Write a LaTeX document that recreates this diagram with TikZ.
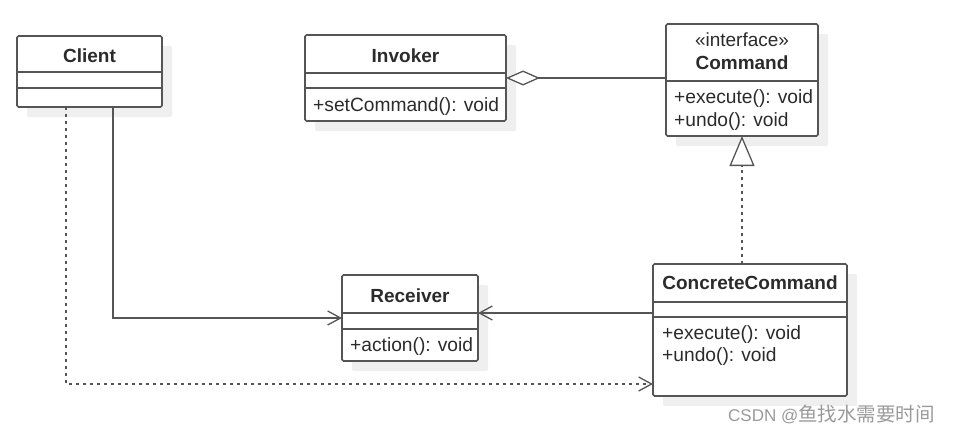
\documentclass[tikz,border=0pt]{standalone}
\usepackage{fontspec}
\setmainfont{Liberation Sans}
\newfontfamily\cjk{Noto Sans CJK SC}
\usetikzlibrary{arrows.meta}
\definecolor{linec}{HTML}{555555}
\definecolor{textc}{HTML}{2B2B2B}
\definecolor{shadowc}{HTML}{EFEFEF}
\definecolor{wmc}{HTML}{9A9A9A}
\begin{document}
\begin{tikzpicture}[x=1pt,y=-1pt,
  classbox/.style={draw=linec, line width=1.6pt, fill=white, rounded corners=1.5pt,
    inner sep=0pt, outer sep=0pt, anchor=north west,
    preaction={fill=shadowc, draw=none, transform canvas={shift={(10pt,-10pt)}}}},
  sepline/.style={draw=linec, line width=1.6pt},
  title/.style={font=\bfseries\fontsize{19}{22}\selectfont, text=textc, inner sep=0pt, anchor=base},
  member/.style={font=\fontsize{19.2}{22}\selectfont, text=textc, inner sep=0pt, anchor=base west},
  assoc/.style={draw=linec, line width=1.5pt, -{Straight Barb[length=13pt, width=14pt, line width=1.3pt]}},
  dep/.style={assoc, dash pattern=on 3pt off 4pt},
  realize/.style={draw=linec, line width=1.5pt, dash pattern=on 3pt off 4pt,
    -{Triangle[length=30pt, width=25pt, fill=white, line width=1.3pt]}},
  aggr/.style={draw=linec, line width=1.5pt, {Diamond[length=34pt, width=15pt, fill=white, line width=1.3pt]}-}
]
\useasboundingbox (0,0) rectangle (953,434);

% Client
\node[classbox, minimum width=145pt, minimum height=71pt] (client) at (17,36) {};
\draw[sepline] (client.west |- 0,72) -- (client.east |- 0,72);
\draw[sepline] (client.west |- 0,88) -- (client.east |- 0,88);
\node[title] (clientname) at (89.5,62) {Client};

% Invoker
\node[classbox, minimum width=201pt, minimum height=86pt] (invoker) at (305,35) {};
\draw[sepline] (invoker.west |- 0,73) -- (invoker.east |- 0,73);
\draw[sepline] (invoker.west |- 0,88) -- (invoker.east |- 0,88);
\node[title] (invokername) at (405.5,62) {Invoker};
\node[member] (invokerm1) at (313,111) {+setCommand(): void};

% Command
\node[classbox, minimum width=152pt, minimum height=112pt] (command) at (666,24) {};
\draw[sepline] (command.west |- 0,81) -- (command.east |- 0,81);
\node[font=\fontsize{19}{22}\selectfont, text=textc, inner sep=0pt, anchor=base] (commandst) at (742,46) {«interface»};
\node[title] (commandname) at (742,69) {Command};
\node[member] (commandm1) at (674,103) {+execute(): void};
\node[member] (commandm2) at (674,126) {+undo(): void};

% Receiver
\node[classbox, minimum width=136pt, minimum height=86pt] (receiver) at (342,275) {};
\draw[sepline] (receiver.west |- 0,313) -- (receiver.east |- 0,313);
\draw[sepline] (receiver.west |- 0,329) -- (receiver.east |- 0,329);
\node[title] (receivername) at (410,302) {Receiver};
\node[member] (receiverm1) at (350,351) {+action(): void};

% ConcreteCommand
\node[classbox, minimum width=194pt, minimum height=132pt] (cc) at (653,264) {};
\draw[sepline] (cc.west |- 0,302) -- (cc.east |- 0,302);
\draw[sepline] (cc.west |- 0,317) -- (cc.east |- 0,317);
\node[title] (ccname) at (750,289) {ConcreteCommand};
\node[member] (ccm1) at (662,339) {+execute(): void};
\node[member] (ccm2) at (662,361) {+undo(): void};

% Connectors
\draw[aggr] (invoker.east) -- (command.west |- invoker.east);
\draw[realize] (command.south |- cc.north) -- (command.south);
\draw[assoc] (cc.west |- 0,313) -- (receiver.east |- 0,313);
\draw[assoc] ([xshift=23.5pt]client.south) |- (receiver.west);
\draw[dep] ([xshift=-23.5pt]client.south) |- ([yshift=-54pt]cc.west);

% Watermark
\node[anchor=base west, text=wmc, inner sep=0pt, font=\fontsize{17}{20}\selectfont] (wm) at (728,421) {CSDN @{\cjk\fontsize{19.5}{20}\selectfont 鱼找水需要时间}};
\end{tikzpicture}
\end{document}
